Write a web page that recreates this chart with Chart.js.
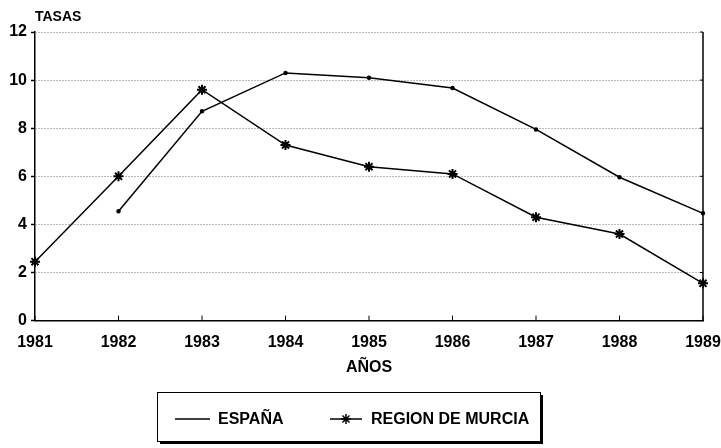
<!DOCTYPE html>
<html lang="es">
<head>
<meta charset="UTF-8">
<title>Tasas: España y Región de Murcia 1981-1989</title>
<script src="https://cdn.jsdelivr.net/npm/chart.js"></script>
<style>
    body { margin: 0; background: #ffffff; }
    #caja { width: 721px; height: 448px; }
</style>
</head>
<body>
<div id="caja"><canvas id="grafico" width="721" height="448"></canvas></div>
<script>
// Datos
const anios  = ['1981', '1982', '1983', '1984', '1985', '1986', '1987', '1988', '1989'];
const espana = [null, 4.55, 8.7, 10.3, 10.1, 9.67, 7.95, 5.96, 4.46];
const murcia = [2.45, 6.0, 9.6, 7.3, 6.4, 6.1, 4.3, 3.6, 1.55];
const tituloY = 'TASAS';
const tituloX = 'AÑOS';

const fuente = '"Liberation Sans", Arial, sans-serif';

// Borde derecho, marcas del eje X hacia dentro, titulo y leyenda con sombra
const decoracion = {
    id: 'decoracion',
    afterDraw(chart) {
        const ctx = chart.ctx;
        const a = chart.chartArea;
        const x = chart.scales.x;
        const y = chart.scales.y;
        ctx.save();
        ctx.strokeStyle = '#000';
        ctx.lineWidth = 1.5;
        ctx.beginPath();
        ctx.moveTo(a.right, a.top);
        ctx.lineTo(a.right, a.bottom);
        ctx.stroke();

        ctx.lineWidth = 1;
        x.ticks.forEach((t, i) => {
            const px = x.getPixelForTick(i);
            ctx.beginPath();
            ctx.moveTo(px, a.bottom);
            ctx.lineTo(px, a.bottom - 5);
            ctx.stroke();
        });
        y.ticks.forEach((t, i) => {
            const py = y.getPixelForTick(i);
            ctx.beginPath();
            ctx.moveTo(a.right, py);
            ctx.lineTo(a.right - 3, py);
            ctx.stroke();
        });

        ctx.fillStyle = '#000';
        ctx.font = 'bold 14px ' + fuente;
        ctx.textAlign = 'left';
        ctx.textBaseline = 'alphabetic';
        ctx.fillText(tituloY, 35, 21);

        // leyenda
        const lx = 157, ly = 392, lw = 383, lh = 49;
        ctx.fillStyle = '#000';
        ctx.fillRect(lx + 3, ly + 3, lw, lh);
        ctx.fillStyle = '#fff';
        ctx.fillRect(lx, ly, lw, lh);
        ctx.strokeStyle = '#000';
        ctx.lineWidth = 1;
        ctx.strokeRect(lx + 0.5, ly + 0.5, lw, lh);

        const yc = ly + 27;
        const muestras = [
            { x0: 175, x1: 210, tx: 218 },
            { x0: 330, x1: 362, tx: 371 }
        ];
        ctx.font = 'bold 16px ' + fuente;
        ctx.textBaseline = 'middle';
        chart.data.datasets.forEach((ds, i) => {
            const m = muestras[i];
            ctx.strokeStyle = '#000';
            ctx.lineWidth = 1.5;
            ctx.beginPath();
            ctx.moveTo(m.x0, yc);
            ctx.lineTo(m.x1, yc);
            ctx.stroke();
            if (ds.pointStyle === 'star' && Chart.helpers && Chart.helpers.drawPoint) {
                ctx.fillStyle = '#000';
                Chart.helpers.drawPoint(ctx, { pointStyle: 'star', radius: 5, borderWidth: 2, rotation: 0 }, (m.x0 + m.x1) / 2, yc);
            }
            ctx.fillStyle = '#000';
            ctx.fillText(ds.label, m.tx, yc + 1);
        });
        ctx.restore();
    }
};

new Chart(document.getElementById('grafico').getContext('2d'), {
    type: 'line',
    data: {
        labels: anios,
        datasets: [
            {
                label: 'ESPAÑA',
                data: espana,
                borderColor: '#000',
                backgroundColor: '#000',
                borderWidth: 1.5,
                pointRadius: 1.5,
                pointStyle: 'circle',
                tension: 0
            },
            {
                label: 'REGION DE MURCIA',
                data: murcia,
                borderColor: '#000',
                backgroundColor: '#000',
                borderWidth: 1.5,
                pointStyle: 'star',
                pointRadius: 5,
                pointBorderWidth: 2,
                tension: 0
            }
        ]
    },
    options: {
        responsive: false,
        animation: false,
        devicePixelRatio: 1,
        layout: { padding: { top: 32, right: 18, bottom: 67, left: 0 } },
        plugins: {
            legend: { display: false },
            tooltip: { enabled: false }
        },
        scales: {
            x: {
                offset: false,
                afterFit(scale) { scale.paddingLeft = 0; scale.paddingRight = 0; },
                grid: { display: false, drawTicks: false },
                border: { display: true, color: '#000', width: 1.5 },
                ticks: {
                    color: '#000',
                    padding: 12,
                    maxRotation: 0,
                    autoSkip: false,
                    font: { family: fuente, size: 16, weight: 'bold' }
                },
                title: {
                    display: true,
                    text: tituloX,
                    color: '#000',
                    padding: { top: -6, bottom: 4 },
                    font: { family: fuente, size: 16, weight: 'bold' }
                }
            },
            y: {
                min: 0,
                max: 12,
                afterFit(scale) { scale.width = 35; },
                grid: {
                    color: '#777',
                    lineWidth: 1,
                    drawTicks: true,
                    tickLength: 4,
                    tickColor: '#000',
                    tickWidth: 1.5,
                    tickBorderDash: []
                },
                border: { display: true, color: '#000', width: 1.5, dash: [1, 2] },
                ticks: {
                    stepSize: 2,
                    color: '#000',
                    padding: 4,
                    font: { family: fuente, size: 16, weight: 'bold' }
                }
            }
        }
    },
    plugins: [decoracion]
});
</script>
</body>
</html>
